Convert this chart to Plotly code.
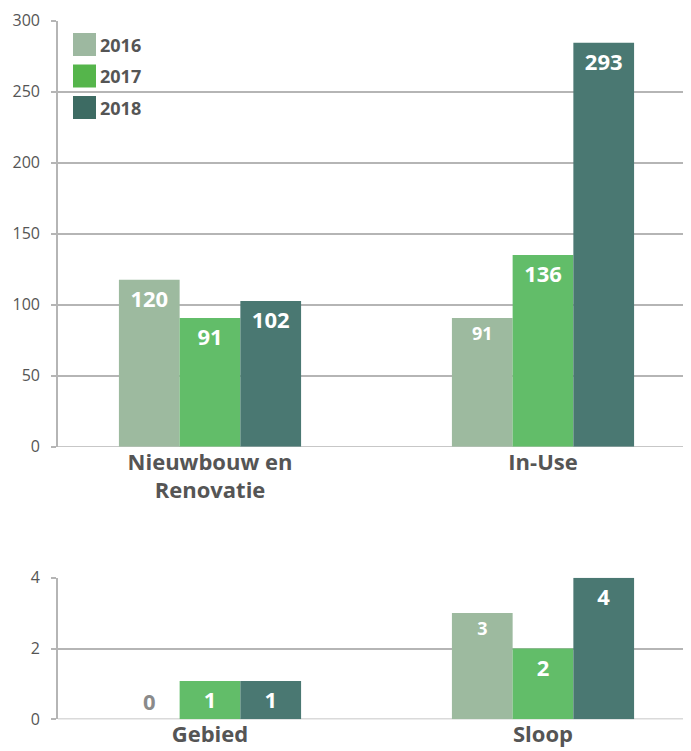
import plotly.graph_objects as go
from plotly.subplots import make_subplots

years = ["2016", "2017", "2018"]
colors = ["#9dba9f", "#62bd69", "#4a7872"]
legend_colors = ["#9db8a0", "#55b54b", "#3d6b63"]

top_categories = ["Nieuwbouw en<br>Renovatie", "In-Use"]
top_heights = {"2016": [117.5, 90.6], "2017": [90.6, 135.0], "2018": [102.6, 284.5]}
top_labels = {"2016": ["120", "91"], "2017": ["91", "136"], "2018": ["102", "293"]}
top_label_sizes = {"2016": [22, 18], "2017": [22, 22], "2018": [22, 22]}

bottom_categories = ["Gebied", "Sloop"]
bottom_heights = {"2016": [0, 3.0], "2017": [1.08, 2.0], "2018": [1.08, 4.0]}
bottom_labels = {"2016": ["0", "3"], "2017": ["1", "2"], "2018": ["1", "4"]}
bottom_label_sizes = {"2016": [22, 18], "2017": [22, 22], "2018": [22, 22]}

FONT = "Open Sans"
O = 8  # page body offset
W, H = 691 - O, 751 - O
ML, MR, MT, MB = 58 - O, 0, 0, 0
plot_h = H - MT - MB

def ydom(ref_top, ref_bottom):
    lo = (H - (ref_bottom - O)) / plot_h
    hi = (H - (ref_top - O)) / plot_h
    return [max(0.0, min(1.0, lo)), max(0.0, min(1.0, hi))]

fig = make_subplots(rows=2, cols=1)
xpos = [0, 1]

for i, yr in enumerate(years):
    fig.add_trace(go.Bar(
        x=xpos, y=top_heights[yr], name=yr, marker_color=colors[i], marker_line_width=0,
        text=top_labels[yr], textposition="inside", insidetextanchor="end",
        textangle=0,
        textfont=dict(family=FONT, color="white", size=top_label_sizes[yr], weight="bold"),
        showlegend=False, cliponaxis=False), row=1, col=1)
    tpos = ["outside" if v == 0 else "inside" for v in bottom_heights[yr]]
    tcol = ["#8a8a8a" if v == 0 else "white" for v in bottom_heights[yr]]
    fig.add_trace(go.Bar(
        x=xpos, y=bottom_heights[yr], name=yr, marker_color=colors[i], marker_line_width=0,
        text=bottom_labels[yr], textposition=tpos, insidetextanchor="end",
        textangle=0,
        textfont=dict(family=FONT, color=tcol, size=bottom_label_sizes[yr], weight="bold"),
        showlegend=False, cliponaxis=False), row=2, col=1)

# x range chosen so category centres land at ref px 210 and 543
plot_w = W - ML - MR
cat_px = 333.0
x_left = -(210 - 58) / cat_px
xr = [x_left, x_left + plot_w / cat_px]
grid = "#b5b5b5"
common_x = dict(range=xr, tickvals=xpos, showgrid=False, zeroline=False, showline=False,
                ticks="", automargin=False,
                tickfont=dict(family=FONT, size=22, color="#555555", weight="bold"))
fig.update_xaxes(ticktext=top_categories, row=1, col=1, **common_x)
fig.update_xaxes(ticktext=bottom_categories, row=2, col=1, **common_x)

common_y = dict(showgrid=True, gridcolor=grid, gridwidth=1.6, zeroline=False,
                showline=True, linecolor=grid, linewidth=1.6, ticks="outside",
                ticklen=5, tickcolor=grid, tickwidth=1.6, ticklabelstandoff=8,
                automargin=False,
                tickfont=dict(family=FONT, size=16, color="#555555"))
fig.update_yaxes(range=[0, 300], dtick=50, domain=ydom(20.7, 446.7), row=1, col=1, **common_y)
fig.update_yaxes(range=[0, 4], dtick=2, domain=ydom(577.7, 719.3), row=2, col=1, **common_y)
fig.update_xaxes(domain=[0, 1])

# baseline lines at y=0
for r in (1, 2):
    fig.add_shape(type="line", xref="x domain" if r == 1 else "x2 domain",
                  yref="y" if r == 1 else "y2", x0=0, x1=1, y0=0, y1=0,
                  line=dict(color=grid, width=1.6), layer="below")

# manual legend (reference pixel positions)
top_px, bot_px = 20.7, 446.7
for i, yr in enumerate(years):
    y0px = 33 + i * 31.5
    y1px = y0px + 23
    fig.add_shape(type="rect", xref="x domain", yref="y domain",
                  x0=(73 - 58) / plot_w, x1=(96 - 58) / plot_w,
                  y0=(bot_px - y1px) / (bot_px - top_px), y1=(bot_px - y0px) / (bot_px - top_px),
                  fillcolor=legend_colors[i], line_width=0)
    fig.add_annotation(xref="x domain", yref="y domain", x=(98 - 58) / plot_w,
                       y=(bot_px - (y0px + 11.5)) / (bot_px - top_px), text=yr,
                       showarrow=False, xanchor="left", yanchor="middle",
                       font=dict(family=FONT, size=18, color="#555555", weight="bold"))

fig.update_layout(
    width=W, height=H, barmode="group", bargap=0.453, bargroupgap=0,
    margin=dict(l=ML, r=MR, t=MT, b=MB, autoexpand=False), paper_bgcolor="white",
    plot_bgcolor="white", showlegend=False, font=dict(family=FONT),
)

fig.write_html("out.html")
